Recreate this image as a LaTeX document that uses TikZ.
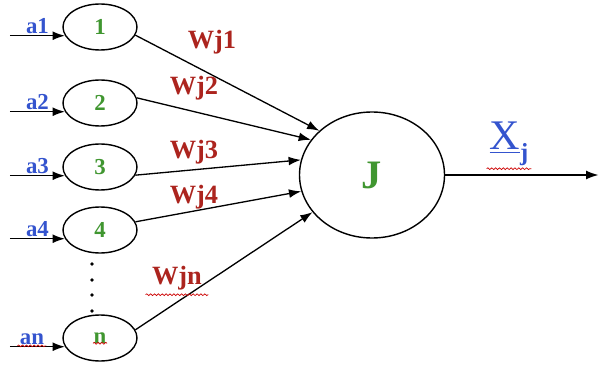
\documentclass[tikz,border=0pt]{standalone}
\usepackage{fontspec}
\setmainfont{Liberation Serif}
\usetikzlibrary{shapes.geometric,decorations.pathmorphing,arrows.meta}

\definecolor{inblue}{RGB}{52,84,206}
\definecolor{numgreen}{RGB}{64,150,48}
\definecolor{wred}{RGB}{172,36,30}

\begin{document}
\begin{tikzpicture}[line width=0.75pt,>={Latex[length=7pt,width=5pt]},
    unit/.style={draw,ellipse,line width=0.8pt,minimum width=1.48cm,minimum height=0.92cm,inner sep=0pt,
      text=numgreen,font=\fontsize{13}{14}\selectfont\bfseries},
    alabel/.style={midway,above,inner sep=1pt,text=inblue,font=\fontsize{13}{14}\selectfont\bfseries},
    wlabel/.style={text=wred,font=\fontsize{15}{17}\selectfont\bfseries},
    wavy/.style={draw=red!80!black,line width=0.4pt,decorate,
      decoration={snake,amplitude=0.5pt,segment length=2.2pt}}]
          \useasboundingbox (0,0) rectangle (11.98,7.30);

          % input units
          \node[unit] (n1) at (2.00,6.76) {1};
          \node[unit] (n2) at (2.00,5.24) {2};
          \node[unit] (n3) at (2.00,3.96) {3};
          \node[unit] (n4) at (2.00,2.70) {4};
          \node[unit] (nn) at (2.00,0.54) {n};

          \fill (1.84,2.02) circle (0.036);
          \fill (1.84,1.70) circle (0.036);
          \fill (1.84,1.40) circle (0.036);
          \fill (1.84,1.08) circle (0.036);

          % neuron J
          \node[draw,ellipse,line width=0.8pt,minimum width=2.90cm,minimum height=2.52cm,
            text=numgreen,font=\fontsize{23}{25}\selectfont\bfseries] (J) at (7.44,3.80) {J};

          % inputs a1 .. an
          \draw[->] (n1.194) ++(-1.10,0) coordinate (in1) -- node[alabel] (a1) {a1} (n1.194);
          \draw[->] (n2.194) ++(-1.10,0) coordinate (in2) -- node[alabel] (a2) {a2} (n2.194);
          \draw[->] (n3.194) ++(-1.10,0) coordinate (in3) -- node[alabel] (a3) {a3} (n3.194);
          \draw[->] (n4.194) ++(-1.10,0) coordinate (in4) -- node[alabel] (a4) {a4} (n4.194);
          \draw[->] (nn.194) ++(-1.10,0) coordinate (inn) -- node[alabel,pos=0.4] (an) {an} (nn.194);

          % weighted connections
          \draw[->] (n1.-13) -- (J.140);
          \draw[->] (n2.8)   -- (J.150);
          \draw[->] (n3.-13) -- (J.168);
          \draw[->] (n4.13)  -- (J.193);
          \draw[->] (nn.13)  -- (J.212);

          \node[wlabel] (w1) at (4.24,6.46) {Wj1};
          \node[wlabel] (w2) at (3.88,5.54) {Wj2};
          \node[wlabel] (w3) at (3.88,4.26) {Wj3};
          \node[wlabel] (w4) at (3.88,3.36) {Wj4};
          \node[wlabel] (wn) at (3.54,1.74) {Wjn};

          % output
          \draw[->] (J.east) -- (11.97,3.80) coordinate (out);
          \node[text=inblue,font=\fontsize{24}{26}\selectfont] (xj) at (10.18,4.42)
            {\underline{X}\raisebox{-0.25em}{\fontsize{14}{15}\selectfont\bfseries j}};

          % spelling marks
          \draw[wavy] ([xshift=2pt,yshift=2pt]xj.south west) -- ([xshift=-2pt,yshift=2pt]xj.south east);
          \draw[wavy] ([yshift=1pt]wn.south west) -- ([yshift=1pt]wn.south east);
          \draw[wavy] ([yshift=0.5pt]an.south west) -- ([yshift=0.5pt]an.south east);
          \draw[wavy] ([xshift=-4pt,yshift=-3pt]nn.center) -- ([xshift=4pt,yshift=-3pt]nn.center);

      \end{tikzpicture}
\end{document}
